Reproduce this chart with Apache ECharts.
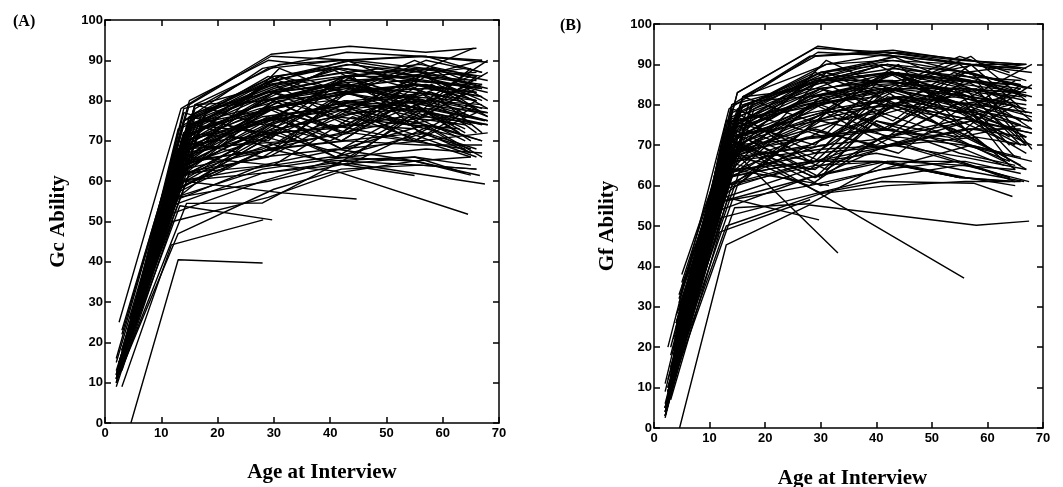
<!DOCTYPE html>
<html>
<head>
<meta charset="utf-8">
<script src="https://cdn.jsdelivr.net/npm/echarts@6/dist/echarts.min.js"></script>
<style>
  html, body { margin: 0; padding: 0; background: #fff; }
  #chart { width: 1063px; height: 487px; }
</style>
</head>
<body>
<div id="chart"></div>
<script>
// age at each interview, one row per person (null = not tested)
const ages = [
  [2.5, 13.5, 29.5, 43.5, 57, 66],
  [3, 15, 29, 42, 55, 67],
  [2, 14, 30, 43, 56, 68],
  [4, 13, 28, 41, 54, 64],
  [3.5, 17, 31, 44, 57, 67],
  [2.5, 12.5, 29, 42, 56, 65],
  [3, 14, 30, 41, 55, 66],
  [4.5, 15, 28.5, 43, 57, 68],
  [2, 13, 29, 40, 54, 63],
  [3.5, 14.5, 31, 44, 58, 67],
  [5, 16, 30, 42, 56, 66],
  [2.5, 13, 28, 41, 55, 64],
  [3, 12.5, 29.5, 42.5, 57, 67.5],
  [4, 14, 27.5, 40, 53, 62],
  [2, 15, 30, 43, 56, 67],
  [3.5, 13.5, 28, 44, 58, 68],
  [2.5, 14, 31, 41, 54, 65],
  [4.5, 16, 29, 42, 57, 66],
  [3, 13, 30, 44, 56, 68],
  [2, 12, 28, 40, 55, 64],
  [4, 14.5, 29, 43, 57, 67],
  [3, 18, 31, 42, 55, 66],
  [2.5, 13, 27.5, 41, 54, 63],
  [5, 14, 30, 44, 58, 68],
  [3.5, 12.5, 29, 42, 56, 65],
  [2, 14, 28.5, 43, 57, 67],
  [4, 15, 30, 40, 53, 64],
  [3, 13.5, 31, 45, 58, 68],
  [2.5, 16, 29, 41, 55, 66],
  [4.5, 12, 28, 42, 56, 65],
  [3, 14, 30, 43, 57, 67],
  [2, 13, 29, 44, 54, 64],
  [3.5, 15, 27, 40, 55, 66],
  [5, 16, 31, 42, 56, 68],
  [2.5, 12.5, 28, 43, 57, 67],
  [4, 14, 29.5, 41, 54, 63],
  [3, 13, 30, 42, 55, 65],
  [2, 15, 28, 44, 58, 68],
  [3.5, 14, 31, 43, 56, 66],
  [4.5, 13.5, 29, 40, 53, 64],
  [2.5, 17.5, 30, 42, 57, 67],
  [3, 12, 28, 41, 55, 65],
  [4, 14.5, 29, 43, 56, 66],
  [2, 13, 31, 44, 58, 68],
  [3.5, 15, 30, 42, 57, 67],
  [2.5, 14, 27.5, 40, 54, 64],
  [4.5, 16, 29, 43, 56, 66],
  [3, 13, 28, 41, 55, 65],
  [2, 14, 30, 44, 57, 67],
  [4, 15, 31, 42, 56, 68],
  [3.5, 12.5, 29, 43, 58, 67],
  [2.5, 13.5, 28.5, 41, 54, 63],
  [5, 15, 30, 44, 56, 66],
  [3, 14, 31, 43, 55, 65],
  [2, 12.5, 29, 42, 57, 68],
  [4, 18, 28, 40, 53, 64],
  [4.6, 13, 28, null, 58, 67.5],
  [3, 15, 30, 41, 57.5, 64.5],
  [3.5, 14, 31.5, 44.7, null, null],
  [2.5, 13.3, 29.7, null, null, null],
  [3, 11.8, 28.1, null, null, null],
  [2.5, 15, null, null, 55.8, null],
  [3, 14, 33.1, null, null, null],
  [2.5, 14.5, 28, 42, 56, 66],
  [3, 13, 29, 43, 56, 67.5],
  [3.5, 14, 30, 40, 55, 66.6],
  [4, 13, 28, 40.5, 55, null],
  [3, 15, 29.5, 44, 57, 65.5],
  [2, 14, 28, 43, 56, 67],
  [2.5, 13, 30, 42, 56, 66],
  [3, 12, 29, 41, 55, 65],
  [4, 14, 30, 43, 56, 67],
  [3, 14, 29, 42, 56, 66],
  [2.5, 13, 30, 43, 57, 67],
  [4, 15, 28, 41, 55, 65],
  [3.5, 14, 31, 44, 58, 68],
  [2, 12.5, 29, 42, 54, 64],
  [4.5, 16, 30, 43, 56, 66],
  [3, 13.5, 28, 40, 55, 67],
  [2.5, 15, 31, 42, 57, 68],
  [3.5, 12, 29, 44, 56, 65],
  [4, 14, 30, 41, 54, 66],
  [2, 13, 28, 43, 57, 67],
  [3, 14.5, 31, 42, 55, 64],
  [5, 15, 29, 44, 58, 68],
  [2.5, 13, 30, 41, 56, 66],
  [3.5, 16, 28, 43, 54, 65],
  [4, 13, 31, 42, 57, 67],
  [2, 14, 29, 40, 55, 68],
  [3, 15, 30, 44, 56, 66],
  [4.5, 12.5, 28, 42, 58, 67],
  [2.5, 14, 31, 43, 55, 65],
  [3, 13, 29, 41, 57, 68],
  [3.5, 15.5, 30, 42, 56, 66],
  [2, 12, 28, 44, 54, 64],
  [4, 14, 31, 43, 57, 67],
  [3, 13.5, 29, 40, 55, 66],
  [2.5, 15, 30, 42, 56, 68],
  [4.5, 13, 28, 43, 57, 65],
  [3.5, 14, 30, 41, 54, 66],
  [2, 16, 29, 44, 58, 67],
  [3, 14, 31, 42, 56, 64],
  [4, 13, 28, 43, 55, 68],
  [2.5, 12.5, 30, 41, 57, 66],
  [3, 15, 29, 43, 56, 67]
];

// crystallized ability (panel A)
const gcScores = [
  [25, 78, 91.5, 93.5, 92, 93],
  [22, 80, 90, 88, 85, 83],
  [15, 72, 85, 89, 87, 83],
  [20, 66, 80, 84, 80, 76],
  [18, 76, 86, 90, 91, 87],
  [12, 60, 78, 70, 82, 76],
  [17, 70, 78, 82, 84, 80],
  [21, 73, 82, 86, 88, 85],
  [13, 62, 74, 70, 80, 72],
  [19, 68, 76, 80, 82, 78],
  [24, 76, 84, 87, 84, 82],
  [14, 58, 70, 64, 76, 70],
  [16, 62, 74, 80, 78, 75],
  [22, 72, 78, 80, 78, 74],
  [11, 70, 82, 86, 86, 84],
  [20, 67, 75, 78, 80, 77],
  [14, 64, 72, 66, 76, 67],
  [26, 78, 88, 90, 87, 84],
  [15, 60, 64, 76, 70, 72],
  [9, 52, 60, 65, 66, 62],
  [21, 71, 80, 83, 80, 79],
  [18, 77, 84, 86, 88, 86],
  [13, 63, 72, 76, 74, 73],
  [27, 70, 76, 79, 77, 74],
  [17, 58, 68, 70, 72, 68],
  [12, 69, 78, 82, 84, 81],
  [22, 74, 82, 84, 86, 88],
  [16, 65, 80, 74, 84, 76],
  [15, 72, 80, 84, 82, 80],
  [23, 55, 64, 68, 70, 66],
  [18, 68, 78, 72, 80, 84],
  [12, 61, 69, 72, 70, 68],
  [19, 72, 77, 81, 84, 82],
  [28, 79, 89, 90, 91, 89.5],
  [14, 56, 63, 66, 68, 67],
  [21, 70, 75, 78, 74, 71],
  [16, 63, 76, 68, 78, 74],
  [10, 68, 76, 79, 80, 78],
  [19, 71, 81, 85, 86, 85],
  [24, 66, 72, 73, 76, 74],
  [13, 76, 83, 88, 86, 80],
  [17, 54, 62, 64, 66, 64],
  [22, 73, 84, 87, 89, 86],
  [11, 59, 73, 77, 78, 75],
  [20, 76, 86, 88, 85, 83],
  [15, 67, 70, 80, 74, 77],
  [26, 77, 82, 84, 80, 77],
  [16, 61, 66, 68, 65, 61.5],
  [10, 66, 78, 82, 83, 81],
  [23, 74, 80, 82, 79, 77],
  [18, 57, 68, 64, 74, 70],
  [14, 64, 74, 79, 81, 80],
  [27, 75, 86, 89, 86, 87],
  [17, 69, 72, 74, 73, 67],
  [11, 58, 68, 72, 76, 74],
  [22, 78, 80, 83, 85, 84],
  [0, 40.5, 39.7, null, null, null],
  [14, 66, 64, 62.5, null, 51.8],
  [19, 60, 57.1, 55.6, null, null],
  [13, 53.9, 50.4, null, null, null],
  [9, 44.2, 50.4, null, null, null],
  [14, 62, null, null, null, null],
  [17, 68, 70, null, null, null],
  [12, 54.5, 54.6, 65, 64, 63],
  [15, 56, 60, 64.5, null, 59.3],
  [18, 62, 64, 66, 65, 61.4],
  [20, 60, 62, 64.5, 61.4, null],
  [23, 79, 91, 90, 88, 93],
  [16, 75, 88, 92, 91, 90],
  [12, 47, 58, 63, 64, 63],
  [13, 50, 56, 62, 65, 66],
  [20, 63, 68, 70, 69, 69],
  [18, 72, 70, 85, 76, 83],
  [14, 66, 82, 74, 86, 77],
  [22, 76, 72, 80, 70, 78],
  [19, 70, 86, 78, 88, 80],
  [12, 64, 76, 70, 80, 72],
  [25, 74, 68, 82, 76, 86],
  [16, 68, 80, 88, 78, 74],
  [15, 62, 74, 86, 80, 90],
  [18, 60, 72, 66, 78, 70],
  [21, 78, 84, 76, 84, 82],
  [11, 70, 66, 78, 74, 66],
  [17, 65, 88, 82, 90, 85],
  [27, 72, 78, 84, 79, 87],
  [13, 61, 80, 73, 82, 72],
  [20, 79, 74, 86, 78, 84],
  [22, 56, 76, 68, 74, 70],
  [11, 74, 86, 80, 88, 78],
  [17, 69, 76, 86, 72, 80],
  [24, 64, 68, 76, 82, 72],
  [14, 77, 70, 80, 76, 88],
  [16, 73, 82, 88, 82, 76],
  [19, 66, 80, 72, 84, 80],
  [10, 57, 70, 80, 74, 82],
  [22, 75, 86, 82, 90, 87],
  [16, 62, 66, 74, 70, 77],
  [15, 74, 78, 72, 86, 82],
  [25, 68, 84, 90, 82, 86],
  [19, 72, 82, 78, 72, 66],
  [12, 79, 80, 84, 88, 86],
  [17, 65, 68, 82, 78, 73],
  [21, 63, 78, 86, 80, 75],
  [14, 59, 74, 66, 72, 68],
  [18, 74, 72, 78, 86, 90]
];

// fluid ability (panel B)
const gfScores = [
  [20, 79, 93, 92, 90, 89],
  [18, 83, 94, 93, 91, 90],
  [9, 76, 88, 91, 88, 84],
  [16, 70, 82, 86, 84, 80],
  [22, 80, 90, 93, 91, 89],
  [6, 70, 66, 82, 78, 74],
  [12, 72, 80, 84, 78, 70],
  [28, 75, 85, 88, 86, 82],
  [5, 72, 62, 76, 70, 65],
  [14, 70, 78, 82, 78, 72],
  [30, 80, 86, 90, 86, 85],
  [10, 66, 60, 72, 66, 62],
  [15, 66, 76, 84, 80, 76],
  [25, 74, 80, 82, 74, 68],
  [4, 74, 86, 88, 85, 83],
  [18, 68, 74, 80, 76, 70],
  [8, 74, 64, 72, 76, 64],
  [32, 82, 92, 93, 90, 90],
  [12, 62, 70, 72, 70, 66],
  [3, 54, 62, 66, 62, 61],
  [22, 73, 82, 85, 82, 79],
  [15, 79, 86, 88, 86, 84],
  [9, 65, 72, 74, 71, 68],
  [35, 72, 78, 80, 76, 73],
  [14, 72, 62, 70, 74, 64],
  [6, 70, 80, 84, 82, 80],
  [26, 76, 84, 86, 84, 82],
  [11, 68, 78, 82, 80, 78],
  [10, 74, 82, 86, 83, 76],
  [27, 56, 62, 66, 62, 60],
  [13, 62, 76, 72, 82, 70],
  [5, 63, 68, 70, 66, 62],
  [20, 76, 80, 84, 84, 83],
  [38, 82, 90, 91, 90, 88],
  [8, 57, 64, 70, 74, 72],
  [22, 72, 76, 78, 72, 66],
  [12, 76, 66, 80, 76, 70],
  [4, 72, 78, 82, 80, 78],
  [17, 73, 84, 88, 84, 82],
  [30, 68, 72, 74, 72, 66],
  [7, 80, 86, 90, 86, 82],
  [10, 56, 60, 64, 66, 61],
  [24, 75, 86, 89, 87, 86],
  [3, 60, 72, 80, 78, 74],
  [19, 78, 88, 90, 88, 84],
  [9, 60, 74, 70, 80, 72],
  [33, 80, 86, 86, 80, 75],
  [11, 62, 66, 66, 62, 61],
  [3, 68, 80, 84, 84, 81],
  [25, 76, 82, 84, 79, 76],
  [16, 59, 66, 70, 72, 70],
  [8, 67, 76, 80, 82, 80],
  [36, 79, 88, 92, 88, 85],
  [13, 70, 72, 74, 68, 65],
  [2.5, 60, 66, 72, 76, 73],
  [26, 81, 82, 85, 86, 85],
  [0, 45.3, 55.2, null, 50.2, 51.2],
  [10, 68, 58.2, 61, 60.6, 57.3],
  [16, 64, 60, null, null, null],
  [9, 57, 51.5, null, null, null],
  [7, 48.5, 56.5, null, null, null],
  [12, 70, null, null, 37.1, null],
  [14, 69, 43.3, null, null, null],
  [8, 54.5, 55.5, 66, 66, 63],
  [10, 60, 65, 66, 65, 61],
  [14, 64, 66, 68, 64, 61],
  [24, 62, 66, 66, 62, null],
  [20, 83, 94.5, 92, 90, 89],
  [11, 80, 92, 93.5, 91, 90],
  [9, 50, 58, 60, 61, 61],
  [8, 52, 58, 62, 65, 64],
  [22, 66, 69, 70, 67, 64],
  [14, 76, 70, 88, 78, 84],
  [8, 70, 84, 76, 90, 78],
  [26, 78, 66, 84, 72, 80],
  [18, 64, 88, 80, 86, 69],
  [4, 68, 80, 72, 84, 70],
  [30, 72, 62, 82, 74, 85],
  [12, 74, 86, 90, 80, 72],
  [10, 60, 78, 88, 82, 90],
  [14, 66, 74, 68, 80, 67],
  [24, 80, 86, 78, 88, 83],
  [5, 74, 64, 80, 72, 64],
  [11, 68, 91, 84, 92, 88],
  [34, 70, 80, 88, 76, 85],
  [9, 62, 82, 74, 84, 70],
  [18, 82, 76, 88, 80, 82],
  [28, 58, 78, 70, 76, 68],
  [5, 78, 88, 82, 90, 76],
  [12, 72, 78, 90, 74, 74],
  [29, 66, 70, 78, 84, 70],
  [8, 79, 72, 82, 78, 86],
  [12, 76, 84, 90, 84, 74],
  [16, 64, 82, 74, 86, 79],
  [3, 62, 72, 84, 76, 80],
  [26, 77, 88, 84, 92, 81],
  [11, 67, 64, 76, 72, 75],
  [9, 76, 80, 74, 88, 84],
  [31, 70, 86, 92, 84, 83],
  [17, 74, 84, 80, 74, 65],
  [5, 82, 84, 86, 90, 86],
  [12, 67, 70, 84, 80, 66],
  [24, 66, 80, 88, 82, 77],
  [8, 72, 60, 64, 70, 67],
  [14, 77, 68, 80, 88, 90]
];

const xTicks = [0, 10, 20, 30, 40, 50, 60, 70];
const yTicks = [0, 10, 20, 30, 40, 50, 60, 70, 80, 90, 100];

const labelFont = {fontFamily: 'Liberation Sans', fontWeight: 'bold', fontSize: 13, color: '#000'};
const titleFont = {fontFamily: 'Liberation Serif', fontWeight: 'bold', fontSize: 21, color: '#000'};

function makeX(grid, pos, name, shift, gap) {
    return {
        type: 'value', gridIndex: grid, position: pos,
        min: xTicks[0], max: xTicks[xTicks.length - 1], interval: 10,
        axisLine: {show: true, onZero: false, lineStyle: {color: '#000', width: 1.5}},
        axisTick: {show: true, inside: true, length: 6, lineStyle: {color: '#000', width: 1.5}},
        axisLabel: {show: pos === 'bottom', margin: 4, ...labelFont},
        splitLine: {show: false},
        name: name, nameLocation: 'middle', nameGap: gap || 40,
        nameTextStyle: {...titleFont, padding: [0, 0, 0, shift || 0]}
    };
}

function makeY(grid, pos, name) {
    return {
        type: 'value', gridIndex: grid, position: pos,
        min: yTicks[0], max: yTicks[yTicks.length - 1], interval: 10,
        axisLine: {show: true, onZero: false, lineStyle: {color: '#000', width: 1.5}},
        axisTick: {show: true, inside: true, length: 6, lineStyle: {color: '#000', width: 1.5}},
        axisLabel: {show: pos === 'left', margin: 2, ...labelFont},
        splitLine: {show: false},
        name: name, nameLocation: 'middle', nameGap: 36,
        nameTextStyle: titleFont
    };
}

function buildSeries(scores, xi, yi) {
    return scores.map((row, i) => ({
        type: 'line',
        xAxisIndex: xi, yAxisIndex: yi,
        symbol: 'none',
        silent: true,
        lineStyle: {color: '#000', width: 1.4},
        data: ages[i]
            .map((a, j) => [a, row[j]])
            .filter(p => p[0] != null && p[1] != null)
    }));
}

const chart = echarts.init(document.getElementById('chart'));
chart.setOption({
    animation: false,
    backgroundColor: '#fff',
    title: [
        {text: '(A)', left: 8, top: 9, textStyle: {fontFamily: 'Liberation Serif', fontWeight: 'bold', fontSize: 16, color: '#000'}},
        {text: '(B)', left: 555, top: 13, textStyle: {fontFamily: 'Liberation Serif', fontWeight: 'bold', fontSize: 16, color: '#000'}}
    ],
    grid: [
        {left: 105, top: 20, width: 394, height: 403, outerBoundsMode: 'none'},
        {left: 654, top: 24, width: 389, height: 404, outerBoundsMode: 'none'}
    ],
    xAxis: [
        makeX(0, 'bottom', 'Age at Interview', 40, 39),
        makeX(0, 'top', ''),
        makeX(1, 'bottom', 'Age at Interview', 8, 40),
        makeX(1, 'top', '')
    ],
    yAxis: [
        makeY(0, 'left', 'Gc Ability'),
        makeY(0, 'right', ''),
        makeY(1, 'left', 'Gf Ability'),
        makeY(1, 'right', '')
    ],
    series: [
        ...buildSeries(gcScores, 0, 0),
        ...buildSeries(gfScores, 2, 2)
    ]
});
</script>
</body>
</html>
